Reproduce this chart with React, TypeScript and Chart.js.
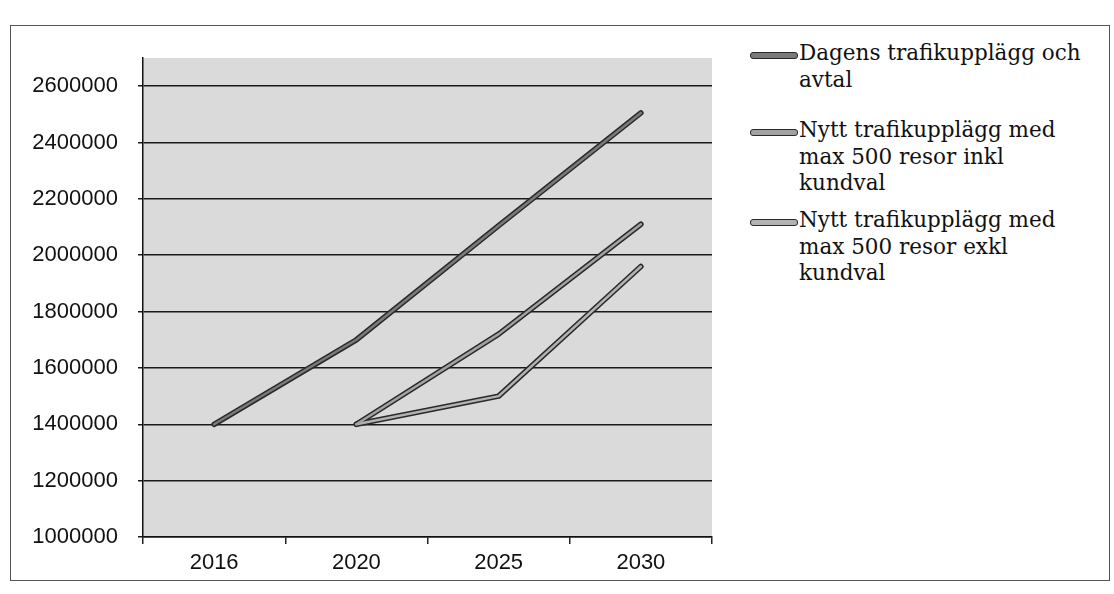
import React, { useEffect, useRef } from "react";
import { Chart, registerables } from "chart.js";

Chart.register(...registerables);

const categories = ["2016", "2020", "2025", "2030"];
const dagens = [1400000, 1700000, 2105000, 2505000];
const inklKundval = [null, 1400000, 1720000, 2110000];
const exklKundval = [null, 1400000, 1500000, 1960000];
const yTickValues = [1000000, 1200000, 1400000, 1600000, 1800000, 2000000, 2200000, 2400000, 2600000];

const seriesNames = [
  ["Dagens trafikupplägg och", "avtal"],
  ["Nytt trafikupplägg med", "max 500 resor inkl", "kundval"],
  ["Nytt trafikupplägg med", "max 500 resor exkl", "kundval"],
];
const seriesFills = ["#7a7a7a", "#a2a2a2", "#b2b2b2"];
const outline = "#2a2a2a";

const plotBg = {
  id: "plotBg",
  beforeDraw(chart: any) {
    const { ctx, chartArea } = chart;
    if (!chartArea) return;
    ctx.save();
    ctx.fillStyle = "#dadada";
    ctx.fillRect(chartArea.left, chartArea.top, chartArea.right - chartArea.left, chartArea.bottom - chartArea.top);
    ctx.restore();
  },
};

export default function App() {
  const ref = useRef<HTMLCanvasElement | null>(null);

  useEffect(() => {
    if (!ref.current) return;
    const all = [dagens, inklKundval, exklKundval];
    const datasets: any[] = [];
    all.forEach((d, i) => {
      datasets.push({
        label: seriesNames[i].join(" "),
        data: d,
        borderColor: seriesFills[i],
        borderWidth: 2.5,
        pointRadius: 0,
        tension: 0,
        order: 0,
        borderCapStyle: "round",
        borderJoinStyle: "round",
      });
      datasets.push({
        label: seriesNames[i].join(" ") + " (kant)",
        data: d,
        borderColor: outline,
        borderWidth: 5.5,
        pointRadius: 0,
        tension: 0,
        order: 1,
        borderCapStyle: "round",
        borderJoinStyle: "round",
      });
    });

    const chart = new Chart(ref.current, {
      type: "line",
      data: { labels: categories, datasets },
      options: {
        animation: false,
        responsive: false,
        maintainAspectRatio: false,
        layout: { padding: { top: 58, right: 18, bottom: 0, left: 0 } },
        plugins: { legend: { display: false }, tooltip: { enabled: false } },
        scales: {
          x: {
            type: "category",
            offset: true,
            afterFit: (s: any) => {
              s.height = 57;
            },
            grid: {
              offset: true,
              drawOnChartArea: false,
              drawTicks: true,
              tickLength: 7,
              color: "#222",
              lineWidth: 1.5,
            },
            border: { color: "#111", width: 1.5 },
            ticks: {
              color: "#111",
              padding: 6,
              font: { family: "Liberation Sans", size: 22 },
            },
          },
          y: {
            min: 1000000,
            max: 2700000,
            afterFit: (s: any) => {
              s.width = 143;
            },
            afterBuildTicks: (s: any) => {
              s.ticks = yTickValues.map((v) => ({ value: v }));
            },
            grid: {
              color: "#1a1a1a",
              lineWidth: 1.5,
              tickLength: 5,
            },
            border: { color: "#111", width: 1.5 },
            ticks: {
              color: "#111",
              padding: 20,
              font: { family: "Liberation Sans", size: 22 },
              callback: (v: any) => String(v),
            },
          },
        },
      },
      plugins: [plotBg],
    });
    return () => chart.destroy();
  }, []);

  const legendTops = [40, 117, 207];

  return (
    <div
      style={{
        position: "absolute",
        left: 0,
        top: 0,
        width: 1114,
        height: 594,
        overflow: "hidden",
        background: "#ffffff",
      }}
    >
      <div
        style={{
          position: "absolute",
          left: 10,
          top: 25,
          width: 1100,
          height: 556,
          border: "1px solid #555",
          boxSizing: "border-box",
        }}
      />
      <canvas
        ref={ref}
        width={730}
        height={594}
        style={{ position: "absolute", left: 0, top: 0, width: 730, height: 594 }}
      />
      {seriesNames.map((lines, i) => (
        <div key={i} style={{ position: "absolute", left: 750, top: legendTops[i] }}>
          <div
            style={{
              position: "absolute",
              left: 0,
              top: 12,
              width: 46,
              height: 5,
              background: seriesFills[i],
              border: "1px solid " + outline,
              borderRadius: 3,
            }}
          />
          <div
            style={{
              position: "absolute",
              left: 49,
              top: 0,
              whiteSpace: "nowrap",
              fontFamily: "'DejaVu Serif', serif",
              fontSize: 21.5,
              lineHeight: "26.5px",
              color: "#111",
            }}
          >
            {lines.map((l, j) => (
              <div key={j}>{l}</div>
            ))}
          </div>
        </div>
      ))}
    </div>
  );
}
